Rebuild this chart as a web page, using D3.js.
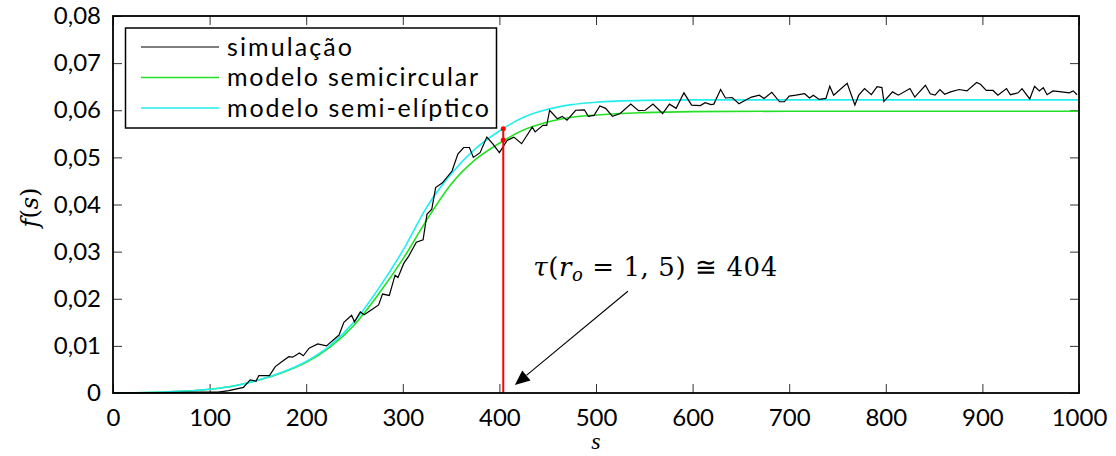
<!DOCTYPE html>
<html>
<head>
<meta charset="utf-8">
<script src="https://cdn.jsdelivr.net/npm/d3@7"></script>
<style>
html,body{margin:0;padding:0;background:#fff;}
svg{display:block;}
.tick text{font-family:Lato,"Open Sans",sans-serif;}
</style>
</head>
<body>
<svg id="chart" width="1116" height="456"></svg>
<script>
// ---- data ----
const xTicks = [0,100,200,300,400,500,600,700,800,900,1000];
const yTicks = [0,0.01,0.02,0.03,0.04,0.05,0.06,0.07,0.08];
const yTickLabels = ["0","0,01","0,02","0,03","0,04","0,05","0,06","0,07","0,08"];
const seriesNames = ["simulação","modelo semicircular","modelo semi-elíptico"];
const seriesColors = ["#000000","#22e022","#22eeee"];

const modelS = [0,50,100,125,150,175,200,225,250,275,300,325,350,375,400,425,450,475,500,550,600,700,1000];
const semicircular = [0,0.0002,0.0008,0.0015,0.0027,0.0043,0.0065,0.0098,0.0145,0.021,0.0284,0.0368,0.0443,0.0495,0.0530,0.0558,0.0575,0.0585,0.0590,0.0595,0.0597,0.0598,0.0598];
const semieliptico = [0,0.0002,0.0008,0.0015,0.0027,0.0044,0.0067,0.0101,0.0152,0.0222,0.0302,0.0395,0.0465,0.0518,0.0556,0.0585,0.0602,0.0612,0.0617,0.0621,0.0622,0.0622,0.0622];

const simS = [0,50,90,109,120,135,142,148,151,162,168,175,182,186,193,197,203,212,221,234,239,247,250,256,260,268,275,279,286,292,295,301,306,314,321,325,330,334,341,351,357,363,369,373,380,387,393,400,408,415,423,434,437,445,449,452,460,465,470,479,488,492,498,504,510,517,525,536,544,551,559,569,576,583,591,599,608,613,619,622,629,634,641,648,656,661,669,674,682,690,695,700,707,716,721,725,731,738,742,746,760,768,772,778,785,791,796,798,807,813,825,830,841,846,851,856,861,867,876,884,894,898,904,911,916,925,929,937,941,949,954,959,963,967,973,982,990,994,998];
const simV = [0,0.0001,0.0002,0.0002,0.0005,0.0012,0.0028,0.0025,0.0037,0.0037,0.0056,0.0067,0.0077,0.0076,0.0085,0.0079,0.0095,0.0104,0.0100,0.0123,0.0150,0.0165,0.0151,0.0172,0.0166,0.0177,0.0187,0.0210,0.0207,0.0250,0.0245,0.0275,0.0290,0.0320,0.0325,0.0379,0.0390,0.0436,0.0446,0.0471,0.0507,0.0521,0.0521,0.0500,0.0510,0.0543,0.0529,0.0510,0.0536,0.0543,0.0529,0.0564,0.0554,0.0568,0.0568,0.0600,0.0582,0.0587,0.0579,0.0600,0.0601,0.0587,0.0589,0.0609,0.0604,0.0587,0.0593,0.0613,0.0599,0.0600,0.0613,0.0593,0.0613,0.0604,0.0637,0.0611,0.0610,0.0616,0.0612,0.0613,0.0644,0.0626,0.0627,0.0614,0.0623,0.0628,0.0632,0.0625,0.0638,0.0618,0.0618,0.0630,0.0632,0.0635,0.0626,0.0632,0.0623,0.0625,0.0651,0.0632,0.0657,0.0611,0.0632,0.0646,0.0633,0.0650,0.0648,0.0619,0.0639,0.0632,0.0646,0.0628,0.0653,0.0635,0.0632,0.0644,0.0634,0.0639,0.0644,0.0641,0.0659,0.0655,0.0642,0.0642,0.0632,0.0646,0.0633,0.0637,0.0646,0.0624,0.0651,0.0641,0.0648,0.0633,0.0641,0.0639,0.0637,0.0641,0.0633];

const tauS = 404;
const tauCyan = 0.0561, tauGreen = 0.0537;
const annotArrowFrom = [533, 0.0216], annotArrowTo = [416, 0.0017];
const annotTextAt = [435, 0.0248];

// ---- layout ----
const svg = d3.select("#chart");
const L = 113, R = 1079, T = 16, B = 393;
const x = d3.scaleLinear().domain([0,1000]).range([L,R]);
const y = d3.scaleLinear().domain([0,0.08]).range([B,T]);
const tickLen = 9;

// axes (inward ticks, box)
const gx = svg.append("g").attr("transform",`translate(0,${B})`)
  .call(d3.axisBottom(x).tickValues(xTicks).tickSizeInner(-tickLen).tickSizeOuter(0).tickPadding(tickLen+7).tickFormat(d3.format("d")));
const gxt = svg.append("g").attr("transform",`translate(0,${T})`)
  .call(d3.axisTop(x).tickValues(xTicks).tickSizeInner(-tickLen).tickSizeOuter(0).tickFormat(""));
const gy = svg.append("g").attr("transform",`translate(${L},0)`)
  .call(d3.axisLeft(y).tickValues(yTicks).tickSizeInner(-tickLen).tickSizeOuter(0).tickPadding(tickLen+3).tickFormat((d,i)=>yTickLabels[i]));
const gyr = svg.append("g").attr("transform",`translate(${R},0)`)
  .call(d3.axisRight(y).tickValues(yTicks).tickSizeInner(-tickLen).tickSizeOuter(0).tickFormat(""));
[gx,gxt,gy,gyr].forEach(g=>{
  g.select(".domain").remove();
  g.selectAll(".tick line").attr("stroke","#333").attr("stroke-width",1);
  g.selectAll(".tick text").attr("font-size",24).attr("fill","#000");
});

// curves
const lineModel = d3.line().x((d,i)=>x(modelS[i])).y(d=>y(d)).curve(d3.curveMonotoneX);
svg.append("path").attr("d",lineModel(semicircular)).attr("fill","none").attr("stroke",seriesColors[1]).attr("stroke-width",1.6);
svg.append("path").attr("d",lineModel(semieliptico)).attr("fill","none").attr("stroke",seriesColors[2]).attr("stroke-width",1.6);
const lineSim = d3.line().x((d,i)=>x(simS[i])).y(d=>y(d));
svg.append("path").attr("d",lineSim(simV)).attr("fill","none").attr("stroke",seriesColors[0]).attr("stroke-width",1.2);

// red marker line
svg.append("line").attr("x1",x(tauS)).attr("x2",x(tauS)).attr("y1",y(0)).attr("y2",y(tauCyan))
  .attr("stroke","#ff0000").attr("stroke-width",2);
[tauCyan,tauGreen].forEach(v=>svg.append("circle").attr("cx",x(tauS)).attr("cy",y(v)).attr("r",2.5).attr("fill","#ff0000"));

// box
svg.append("rect").attr("x",L).attr("y",T).attr("width",R-L).attr("height",B-T)
  .attr("fill","none").attr("stroke","#000").attr("stroke-width",1.8);

// legend
const lg = svg.append("g");
lg.append("rect").attr("x",125.5).attr("y",28).attr("width",371).attr("height",100)
  .attr("fill","#fff").attr("stroke","#000").attr("stroke-width",1.5);
const rows = [47,77.5,108];
const legendTextLen = [125,251,262];
seriesNames.forEach((n,i)=>{
  lg.append("line").attr("x1",141).attr("x2",219).attr("y1",rows[i]).attr("y2",rows[i])
    .attr("stroke",seriesColors[i]).attr("stroke-width",i===0?1.2:1.6);
  lg.append("text").attr("x",227).attr("y",rows[i]).attr("dy","0.35em")
    .attr("font-family","Lato, 'Open Sans', sans-serif").attr("font-size",25)
    .attr("textLength",legendTextLen[i]).attr("lengthAdjust","spacing").text(n);
});

// annotation arrow
const ax1 = x(annotArrowFrom[0]), ay1 = y(annotArrowFrom[1]);
const ax2 = x(annotArrowTo[0]), ay2 = y(annotArrowTo[1]);
const ang = Math.atan2(ay2-ay1, ax2-ax1);
const hl = 15, hw = 6.5;
const bx = ax2 - hl*Math.cos(ang), by = ay2 - hl*Math.sin(ang);
svg.append("line").attr("x1",ax1).attr("y1",ay1).attr("x2",bx).attr("y2",by).attr("stroke","#000").attr("stroke-width",1.1);
svg.append("path").attr("d",`M${ax2},${ay2}L${bx+hw*Math.sin(ang)},${by-hw*Math.cos(ang)}L${bx-hw*Math.sin(ang)},${by+hw*Math.cos(ang)}Z`).attr("fill","#000");

const at = svg.append("text").attr("x",x(annotTextAt[0])).attr("y",y(annotTextAt[1]))
  .attr("font-family","'DejaVu Serif','Liberation Serif',serif").attr("font-size",26)
  .attr("textLength",244).attr("lengthAdjust","spacing");
at.append("tspan").attr("font-style","italic").text("τ");
at.append("tspan").text("(");
at.append("tspan").attr("font-style","italic").text("r");
at.append("tspan").attr("font-style","italic").attr("font-size",18).attr("dy",5).text("o");
at.append("tspan").attr("dy",-5).text(" = 1, 5) ≅ 404");

// axis labels
svg.append("text").attr("x",x(500)).attr("y",449).attr("text-anchor","middle")
  .attr("font-family","'Liberation Serif','DejaVu Serif',serif").attr("font-size",24).attr("font-style","italic").text("s");
const yl = svg.append("text").attr("transform",`translate(38,${(T+B)/2 + 3}) rotate(-90)`).attr("text-anchor","middle")
  .attr("font-family","'DejaVu Serif','Liberation Serif',serif").attr("font-size",24);
yl.append("tspan").attr("font-style","italic").text("f");
yl.append("tspan").text("(");
yl.append("tspan").attr("font-style","italic").text("s");
yl.append("tspan").text(")");
</script>
</body>
</html>
